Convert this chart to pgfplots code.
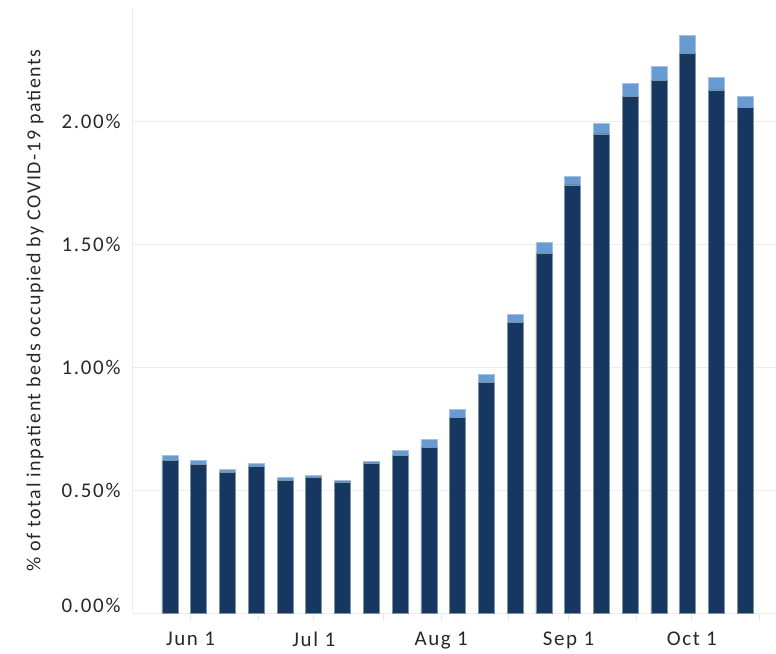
\documentclass[border=0pt]{standalone}
\usepackage{pgfplots}
\pgfplotsset{compat=1.18}
\usepackage{fontspec}
\setmainfont{Carlito}[LetterSpace=8]
\definecolor{navy}{RGB}{22,56,96}
\definecolor{lightb}{RGB}{104,155,210}
\definecolor{gridc}{RGB}{236,236,236}
\definecolor{txt}{RGB}{40,40,40}
\begin{document}
\begin{tikzpicture}[x=1bp,y=1bp]
\path[use as bounding box] (-133,-40.7) rectangle (643,613.3);
\begin{axis}[
  at={(0,0)}, anchor=south west,
  width=643bp, height=605.3bp, scale only axis,
  xmin=-14, xmax=142.5, ymin=0, ymax=2.46,
  ybar stacked, bar width=3.9,
  axis x line=bottom, axis y line=left,
  axis line style={-, draw=gridc, line width=1bp},
  ytick={0.5,1,1.5,2},
  yticklabels={0.50\%,1.00\%,1.50\%,2.00\%},
  extra y ticks={0},
  extra y tick labels={0.00\%},
  extra y tick style={yticklabel style={yshift=8bp}, ymajorgrids=false},
  ymajorgrids,
  grid style={draw=gridc, line width=1bp},
  ytick style={draw=none},
  xtick={0,30,61,92,122},
  xticklabels={Jun 1,Jul 1,Aug 1,Sep 1,Oct 1},
  minor xtick={16.5,47,77.5,108.5,138.5},
  xtick style={draw=gridc, line width=1bp},
  tick align=outside,
  major tick length=8bp, minor tick length=8bp,
  tick label style={font=\fontsize{21}{25}\selectfont, text=txt},
  yticklabel style={xshift=-1bp},
  xticklabel style={yshift=-7bp},
  ylabel={\% of total inpatient beds occupied by COVID-19 patients},
  ylabel style={font=\fontsize{20}{24}\selectfont, text=txt,
    at={(axis description cs:-0.1524,0.5)}, anchor=center},
  /pgf/number format/assume math mode=true,
]
\addplot[fill=navy, draw=navy!55!white, line width=0.6bp] coordinates {
(-5,0.623) (2,0.604) (9,0.573) (16,0.598) (23,0.541) (30,0.553) (37,0.534)
(44,0.611) (51,0.642) (58,0.675) (65,0.797) (72,0.939) (79,1.183) (86,1.463)
(93,1.741) (100,1.948) (107,2.102) (114,2.167) (121,2.276) (128,2.127) (135,2.057)};
\addplot[fill=lightb, draw=lightb!60!white, line width=0.6bp] coordinates {
(-5,0.020) (2,0.019) (9,0.012) (16,0.012) (23,0.012) (30,0.006) (37,0.007)
(44,0.007) (51,0.020) (58,0.032) (65,0.032) (72,0.031) (79,0.032) (86,0.043)
(93,0.033) (100,0.044) (107,0.052) (114,0.057) (121,0.071) (128,0.052) (135,0.045)};
\end{axis}
\end{tikzpicture}
\end{document}
